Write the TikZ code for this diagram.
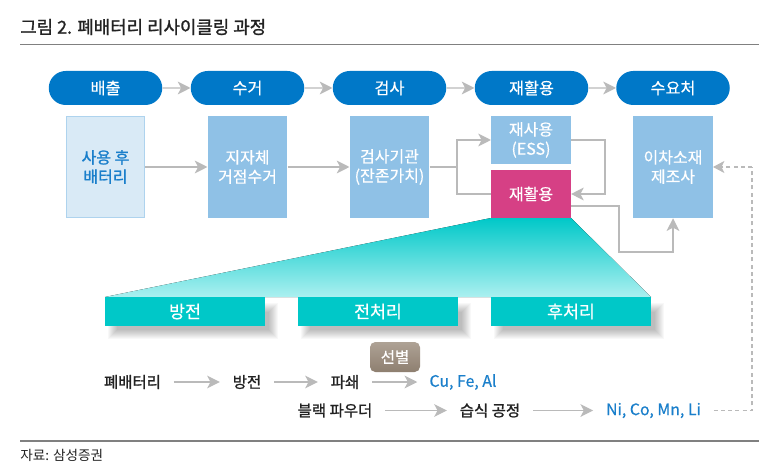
\documentclass[tikz,border=0pt]{standalone}
\usepackage{fontspec}
\setmainfont{Noto Sans CJK KR}
\newfontfamily\medfont[FakeBold=1.3]{Noto Sans CJK KR}
\newfontfamily\slfont[FakeBold=0.4]{Noto Sans CJK KR}
\usetikzlibrary{arrows.meta,shapes.misc}
\definecolor{pillc}{HTML}{0078C8}
\definecolor{boxc}{HTML}{8FC1E6}
\definecolor{lightc}{HTML}{D9EAF6}
\definecolor{lightb}{HTML}{AED3EE}
\definecolor{txtb}{HTML}{1A7FCB}
\definecolor{pinkc}{HTML}{D64085}
\definecolor{tealc}{HTML}{00C8C8}
\definecolor{teall}{HTML}{ABF0F0}
\definecolor{arr}{HTML}{BABABA}
\definecolor{rulec}{HTML}{808080}
\definecolor{inkc}{HTML}{222222}
\definecolor{selt}{HTML}{AEA295}
\definecolor{selb}{HTML}{8E7F70}
\tikzset{
  pill/.style={rounded rectangle,fill=pillc,text=white,minimum width=113.5*0.75pt,minimum height=34*0.75pt,inner sep=0pt,font=\fontsize{12.2pt}{14pt}\slfont},
  blockb/.style={fill=boxc,text=white,minimum width=79.5*0.75pt,minimum height=102*0.75pt,inner sep=0pt,align=center,font=\fontsize{12pt}{14.4pt}\slfont},
  halfb/.style={blockb,minimum height=48*0.75pt},
  barb/.style={fill=tealc,text=white,minimum width=160*0.75pt,minimum height=29*0.75pt,inner sep=0pt,font=\fontsize{13pt}{14pt}\slfont},
  lab/.style={inner sep=0pt,text=inkc,font=\fontsize{11.6pt}{13pt}\medfont},
  blu/.style={inner sep=0pt,text=txtb,font=\fontsize{11.9pt}{13pt}\slfont},
  con/.style={draw=arr,line width=1.1pt,-{Stealth[length=9.5pt,width=9.5pt,inset=2.5pt]}},
  plainline/.style={draw=arr,line width=1.1pt},
  ruleline/.style={draw=rulec,line width=1.1pt},
  dashline/.style={draw=arr,line width=0.8pt,dash pattern=on 3pt off 2.4pt},
}
\begin{document}
\begin{tikzpicture}[x=0.75pt,y=-0.75pt]
\path[use as bounding box,fill=white] (0,0) rectangle (773,466);
% title and rules
\node[anchor=west,inner sep=0pt,text=inkc,font=\fontsize{13.4pt}{15pt}\medfont] (title) at (20,27) {그림 2. 폐배터리 리사이클링 과정};
\coordinate (r1a) at (20,44.5); \coordinate (r1b) at (759,44.5);
\coordinate (r2a) at (20,441); \coordinate (r2b) at (759,441);
\draw[ruleline] (r1a) -- (r1b);
\draw[ruleline] (r2a) -- (r2b);
\node[anchor=west,inner sep=0pt,text=inkc,font=\fontsize{10.2pt}{12pt}\selectfont] (src) at (20,455.5) {자료: 삼성증권};
% pills
\node[pill] (p1) at (105.5,88) {배출};
\node[pill] (p2) at (247.5,88) {수거};
\node[pill] (p3) at (389.5,88) {검사};
\node[pill] (p4) at (531.5,88) {재활용};
\node[pill] (p5) at (673,88) {수요처};
\draw[con] (p1) -- (p2);
\draw[con] (p2) -- (p3);
\draw[con] (p3) -- (p4);
\draw[con] (p4) -- (p5);
% funnel
\fill[bottom color=teall,top color=tealc] (491,218) -- (571,218) -- (651,297) -- (105,297) -- cycle;
% blocks
\node[blockb,fill=lightc,draw=lightb,line width=0.9pt,text=txtb,minimum width=78.5*0.75pt,minimum height=101.5*0.75pt,font=\fontsize{12pt}{14.4pt}\medfont] (b1) at (105.5,167) {사용 후\\배터리};
\node[blockb] (b2) at (247.5,167) {지자체\\거점수거};
\node[blockb] (b3) at (389.5,167) {검사기관\\(잔존가치)};
\node[halfb] (b4) at (531,140) {재사용\\(ESS)};
\node[halfb,fill=pinkc] (b5) at (531,194) {재활용};
\node[blockb] (b6) at (673,167) {이차소재\\제조사};
\draw[con] (b1) -- (b2);
\draw[con] (b2) -- (b3);
\coordinate (sp) at (457,167);
\draw[plainline] (b3) -- (sp);
\draw[con] (sp) |- (b4);
\draw[plainline] (sp) |- (b5);
\coordinate (rr) at (605,167);
\draw[con] (b4) -| (rr) |- (b5);
\coordinate (o1) at (571,206); \coordinate (o2) at (619,252);
\draw[con] (o1) -| (o2) -| (b6.south);
% soft shadows
\foreach \i in {0,1,...,9}{
  \fill[black,opacity=0.028] (108+\i,303+\i) rectangle (278-\i,339-\i);
  \fill[black,opacity=0.028] (301+\i,303+\i) rectangle (471-\i,339-\i);
  \fill[black,opacity=0.028] (494+\i,303+\i) rectangle (664-\i,339-\i);
}
% bars
\node[barb] (d1) at (185,311.5) {방전};
\node[barb] (d2) at (378,311.5) {전처리};
\node[barb] (d3) at (571,311.5) {후처리};
% select badge
\node[rounded corners=4pt,top color=selt,bottom color=selb,minimum width=50*0.75pt,minimum height=30*0.75pt,inner sep=0pt,text=white,font=\fontsize{11.6pt}{13pt}\slfont] (sel) at (395,357) {선별};
% row 1
\node[lab] (t1) at (132.5,382) {폐배터리};
\node[lab] (t2) at (247,382) {방전};
\node[lab] (t3) at (345,382) {파쇄};
\node[blu] (t4) at (463,382) {Cu, Fe, Al};
\draw[con] ([xshift=9.5pt]t1.east) -- ([xshift=-9.5pt]t2.west);
\draw[con] ([xshift=9.5pt]t2.east) -- ([xshift=-9.5pt]t3.west);
\draw[con] ([xshift=9.5pt]t3.east) -- ([xshift=-9pt]t4.west);
% row 2
\node[lab] (u1) at (335,410.5) {블랙 파우더};
\node[lab] (u2) at (490,410.5) {습식 공정};
\node[blu] (u3) at (653.5,410.5) {Ni, Co, Mn, Li};
\draw[con] ([xshift=9.5pt]u1.east) -- ([xshift=-9.5pt]u2.west);
\draw[con] ([xshift=9.5pt]u2.east) -- ([xshift=-9.5pt]u3.west);
\coordinate (dc) at (752,410.5);
\coordinate (dd) at (752,167);
\draw[dashline] ([xshift=9.5pt]u3.east) -- (dc) -- (dd);
\draw[dashline,-{Stealth[length=8.5pt,width=9pt,inset=2.2pt,fill=arr]}] (dd) -- (b6.east);
\end{tikzpicture}
\end{document}
